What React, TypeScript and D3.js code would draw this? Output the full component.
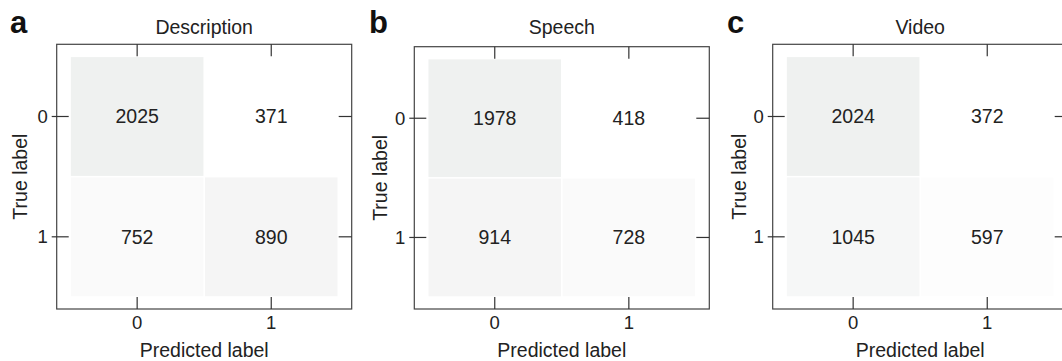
import React from "react";
import * as d3 from "d3";

const panelLetters = ["a", "b", "c"];
const panelTitles = ["Description", "Speech", "Video"];
const classLabels = ["0", "1"];
// confusion matrices: [trueRow][predCol]
const descriptionMatrix = [
  [2025, 371],
  [752, 890],
];
const speechMatrix = [
  [1978, 418],
  [914, 728],
];
const videoMatrix = [
  [2024, 372],
  [1045, 597],
];
const matrices = [descriptionMatrix, speechMatrix, videoMatrix];

// layout of each panel frame (pixels)
const frames = [
  { left: 56.7, right: 351.7, top: 44.3, bottom: 309, yLabelX: 27, letterX: 10 },
  { left: 414.3, right: 709.3, top: 46.7, bottom: 309, yLabelX: 386.5, letterX: 369 },
  { left: 772.7, right: 1067.7, top: 44.3, bottom: 309, yLabelX: 746, letterX: 727 },
];

const FONT = "'Liberation Sans', Arial, Helvetica, sans-serif";
const TEXT = "#222";

const color = d3
  .scaleLinear<string>()
  .domain([370, 600, 750, 900, 1050, 2025])
  .range(["#ffffff", "#fdfdfd", "#fafafa", "#f5f5f5", "#f6f7f7", "#eff1f0"])
  .clamp(true);

function Panel({ idx }: { idx: number }) {
  const f = frames[idx];
  const m = matrices[idx];
  const x = d3.scaleLinear().domain([-0.6, 1.6]).range([f.left, f.right]);
  const y = d3.scaleLinear().domain([-0.6, 1.6]).range([f.top, f.bottom]);
  const gap = 0.75;
  const cx = (f.left + f.right) / 2;
  const cy = (f.top + f.bottom) / 2;
  return (
    <g>
      {m.map((row, r) =>
        row.map((v, c) => (
          <rect
            key={`c${r}${c}`}
            x={x(c - 0.5) + gap}
            y={y(r - 0.5) + gap}
            width={x(c + 0.5) - x(c - 0.5) - 2 * gap}
            height={y(r + 0.5) - y(r - 0.5) - 2 * gap}
            fill={color(v)}
          />
        ))
      )}
      {m.map((row, r) =>
        row.map((v, c) => (
          <text
            key={`t${r}${c}`}
            x={x(c)}
            y={y(r)}
            textAnchor="middle"
            dominantBaseline="central"
            fontSize={19.5}
            fill={TEXT}
          >
            {v}
          </text>
        ))
      )}
      <rect
        x={f.left}
        y={f.top}
        width={f.right - f.left}
        height={f.bottom - f.top}
        fill="none"
        stroke="#444"
        strokeWidth={1.2}
      />
      {classLabels.map((lab, i) => (
        <g key={`tk${i}`} stroke="#333" strokeWidth={1.2}>
          <line x1={x(i)} x2={x(i)} y1={f.top} y2={f.top + 12} />
          <line x1={x(i)} x2={x(i)} y1={f.bottom} y2={f.bottom - 12} />
          <line x1={f.left - 5} x2={f.left + 12} y1={y(i)} y2={y(i)} />
          <line x1={f.right} x2={f.right - 13} y1={y(i)} y2={y(i)} />
        </g>
      ))}
      {classLabels.map((lab, i) => (
        <text
          key={`xl${i}`}
          x={x(i)}
          y={329}
          textAnchor="middle"
          fontSize={18.5}
          fill={TEXT}
        >
          {lab}
        </text>
      ))}
      {classLabels.map((lab, i) => (
        <text
          key={`yl${i}`}
          x={f.left - 9}
          y={y(i)}
          textAnchor="end"
          dominantBaseline="central"
          fontSize={18.5}
          fill={TEXT}
        >
          {lab}
        </text>
      ))}
      <text x={cx} y={34} textAnchor="middle" fontSize={19.5} fill={TEXT}>
        {panelTitles[idx]}
      </text>
      <text
        x={f.letterX}
        y={33}
        fontSize={31}
        fontWeight="bold"
        fill="#111"
      >
        {panelLetters[idx]}
      </text>
      <text x={cx} y={357} textAnchor="middle" fontSize={19.5} fill={TEXT}>
        Predicted label
      </text>
      <text
        transform={`translate(${f.yLabelX},${cy}) rotate(-90)`}
        textAnchor="middle"
        fontSize={19.5}
        fill={TEXT}
      >
        True label
      </text>
    </g>
  );
}

export default function App() {
  return (
    <svg
      width={1062}
      height={361}
      style={{ position: "absolute", left: 0, top: 0, background: "#fff" }}
      fontFamily={FONT}
    >
      <rect x={0} y={0} width={1062} height={361} fill="#fff" />
      {matrices.map((_, i) => (
        <Panel key={i} idx={i} />
      ))}
    </svg>
  );
}
